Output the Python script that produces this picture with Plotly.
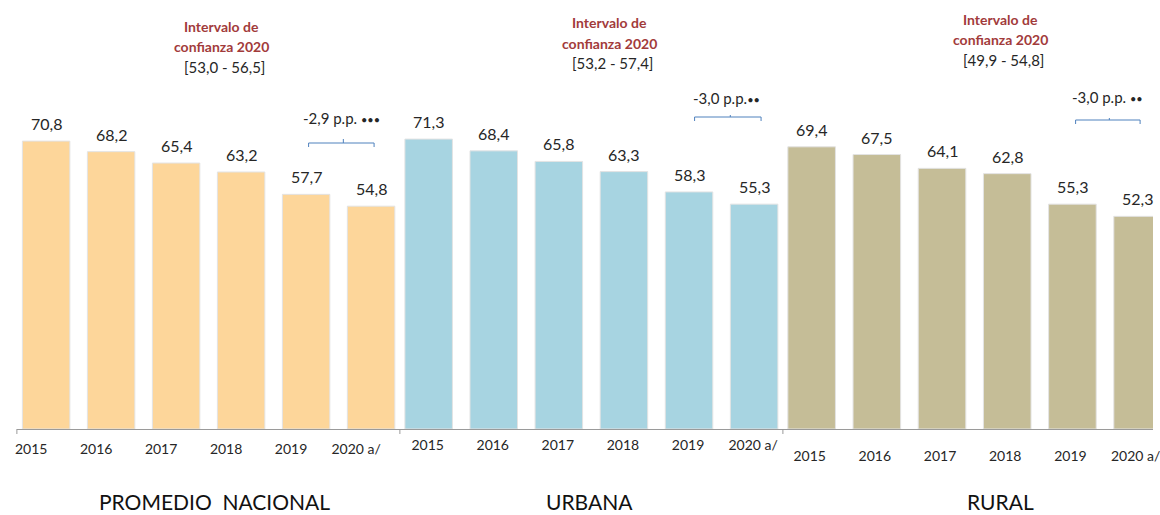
import plotly.graph_objects as go

# ---------------- data ----------------
years = ["2015", "2016", "2017", "2018", "2019", "2020 a/"]
nacional = [70.8, 68.2, 65.4, 63.2, 57.7, 54.8]
urbana = [71.3, 68.4, 65.8, 63.3, 58.3, 55.3]
rural = [69.4, 67.5, 64.1, 62.8, 55.3, 52.3]
panel_titles = ["PROMEDIO  NACIONAL", "URBANA", "RURAL"]
ic_labels = ["[53,0 - 56,5]", "[53,2 - 57,4]", "[49,9 - 54,8]"]
diff_values = ["-2,9 p.p. ", "-3,0 p.p.", "-3,0 p.p. "]
diff_marks = ["•••", "••", "••"]

series = [nacional, urbana, rural]
colors = ["#FDD69A", "#A7D4E1", "#C5BD97"]

# ---------------- geometry (pixels) ----------------
W, H = 1160, 515
PLOT_BOTTOM = 429  # y pixel of the axis line
FONT = "Lato"
TXT = "#262626"

def px(x):
    return x / W

def py(y):
    return (PLOT_BOTTOM - y) / PLOT_BOTTOM

domains = [(15, 401), (401, 787), (787, 1160)]
ranges = [(-0.450, 5.443), (-0.442, 5.442), (-0.441, 5.236)]
tick_shift = [-15, -1, -2]
tick_standoff = [7, 3, 14]
title_x = [214, 592, 1006]
ic_pos = [(221, 27), (612, 23), (1006, 20)]
diff_pos = [(342, 118), (730, 98), (1114, 97)]
brace = [(309, 375, 344, 147, 139), (698, 765, 734, 121, 115), (1082, 1147, 1116, 124, 118)]

fig = go.Figure()
annotations = []
shapes = []

for i, vals in enumerate(series):
    xa = "x" if i == 0 else f"x{i+1}"
    fig.add_trace(go.Bar(
        x=years, y=vals, xaxis=xa, yaxis="y",
        marker=dict(color=colors[i], line=dict(color="#E3E3E3", width=1)),
        showlegend=False, hoverinfo="x+y",
    ))
    axname = "xaxis" if i == 0 else f"xaxis{i+1}"
    fig.layout[axname] = dict(
        domain=[px(domains[i][0]), px(domains[i][1])],
        range=list(ranges[i]),
        type="category",
        anchor="y",
        showline=True, linecolor="#9A9A9A", linewidth=1,
        ticks="", showgrid=False, zeroline=False,
        tickfont=dict(family=FONT, size=14, color=TXT),
        ticklabelshift=tick_shift[i],
        ticklabelstandoff=tick_standoff[i],
        fixedrange=True,
    )
    # value labels (category index positions)
    for j, v in enumerate(vals):
        annotations.append(dict(
            x=j, y=v, xref=xa, yref="y", text=f"{v:.1f}".replace(".", ","),
            showarrow=False, yanchor="bottom", yshift=6,
            font=dict(family=FONT, size=16, color=TXT),
        ))
    # panel title
    annotations.append(dict(
        x=px(title_x[i]), y=py(H), xref="paper", yref="paper", text=panel_titles[i],
        showarrow=False, xanchor="center", yanchor="bottom", borderpad=0,
        font=dict(family=FONT, size=21, color="#111111"),
    ))
    # confidence interval text
    cx, cy = ic_pos[i]
    annotations.append(dict(
        x=px(cx), y=py(cy), xref="paper", yref="paper",
        text="<b>Intervalo de</b>", showarrow=False, xanchor="center", yanchor="middle",
        font=dict(family=FONT, size=14, color="#A23B3B"),
    ))
    annotations.append(dict(
        x=px(cx), y=py(cy + 20), xref="paper", yref="paper",
        text="<b>confianza 2020</b>", showarrow=False, xanchor="center", yanchor="middle",
        font=dict(family=FONT, size=14, color="#A23B3B"),
    ))
    annotations.append(dict(
        x=px(cx + 3), y=py(cy + 40), xref="paper", yref="paper",
        text=ic_labels[i], showarrow=False, xanchor="center", yanchor="middle",
        font=dict(family=FONT, size=15, color=TXT),
    ))
    # difference label
    dx, dy = diff_pos[i]
    annotations.append(dict(
        x=px(dx), y=py(dy), xref="paper", yref="paper",
        text=diff_values[i] + "<span style='font-size:11px'>" + diff_marks[i] + "</span>",
        showarrow=False, xanchor="center", yanchor="middle",
        font=dict(family=FONT, size=15, color=TXT),
    ))
    # brace
    x0, x1, xc, yb, yt = brace[i]
    ym = yb - 4
    path = (f"M {px(x0)},{py(yb)} L {px(x0)},{py(ym)} L {px(x1)},{py(ym)} L {px(x1)},{py(yb)} "
            f"M {px(xc)},{py(ym)} L {px(xc)},{py(yt)}")
    shapes.append(dict(type="path", xref="paper", yref="paper", path=path,
                       line=dict(color="#4F81BD", width=1)))

# small ticks at panel boundaries
for bx in (15, 401, 787):
    shapes.append(dict(type="line", xref="paper", yref="paper",
                       x0=px(bx), x1=px(bx), y0=py(PLOT_BOTTOM), y1=py(PLOT_BOTTOM + 5),
                       line=dict(color="#9A9A9A", width=1)))

fig.update_layout(
    width=W, height=H,
    margin=dict(l=0, r=0, t=0, b=H - PLOT_BOTTOM, pad=0),
    paper_bgcolor="white", plot_bgcolor="white",
    bargap=0.27,
    yaxis=dict(range=[0, 105.5], visible=False, fixedrange=True),
    annotations=annotations,
    shapes=shapes,
    font=dict(family=FONT, color=TXT),
)

fig.write_html("out.html", config={"displayModeBar": False},
               post_script="document.body.style.margin='0px';document.body.style.padding='0px';")
